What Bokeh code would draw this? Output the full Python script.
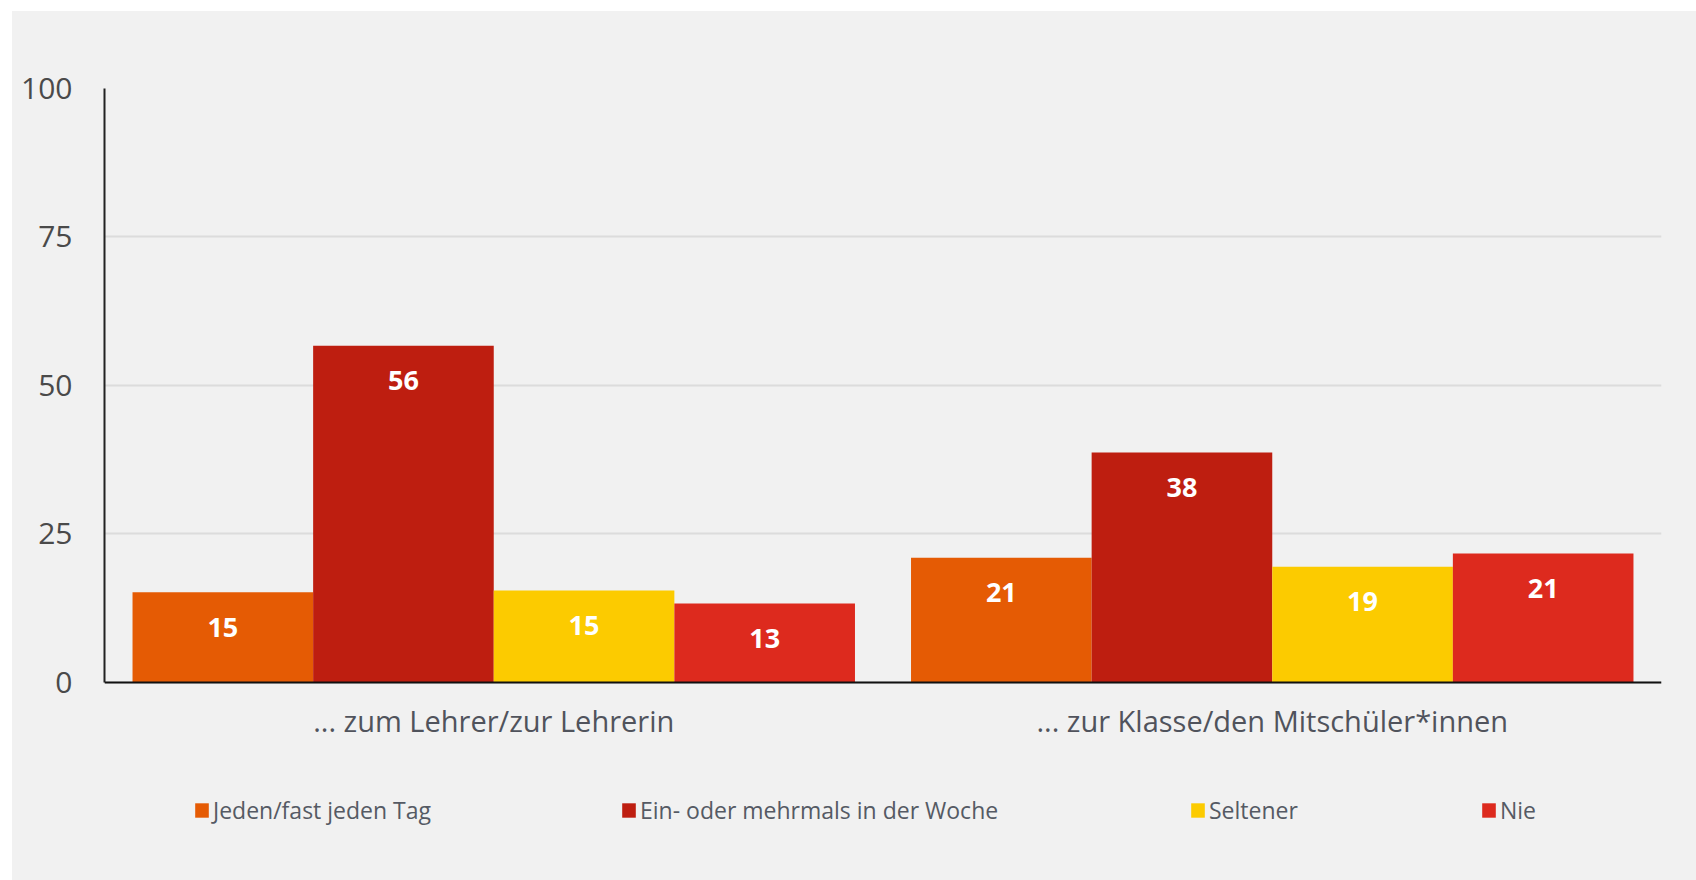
from bokeh.plotting import figure
from bokeh.models import ColumnDataSource, FactorRange, Legend, LegendItem, Range1d
from bokeh.transform import dodge
from bokeh.core.properties import value
from bokeh.embed import file_html
from bokeh.resources import INLINE

# ---------------- data ----------------
categories = ["... zum Lehrer/zur Lehrerin", "... zur Klasse/den Mitschüler*innen"]
series = ["Jeden/fast jeden Tag", "Ein- oder mehrmals in der Woche", "Seltener", "Nie"]
jeden_tag = [15.2, 21.0]
woechentlich = [56.7, 38.7]
seltener = [15.5, 19.5]
nie = [13.3, 21.7]
labels_jeden_tag = ["15", "21"]
labels_woechentlich = ["56", "38"]
labels_seltener = ["15", "19"]
labels_nie = ["13", "21"]
y_ticks = [0, 25, 50, 75, 100]

values_by_series = [jeden_tag, woechentlich, seltener, nie]
labels_by_series = [labels_jeden_tag, labels_woechentlich, labels_seltener, labels_nie]
colors = ["#E55B04", "#BE1E10", "#FCCB00", "#DD2A1E"]

FONT = "Open Sans"
BG = "#f1f1f1"

p = figure(
    x_range=FactorRange(factors=categories, range_padding=0),
    y_range=Range1d(-31.65, 100),
    width=1684, height=869,
    min_border_left=92, min_border_right=35, min_border_top=77, min_border_bottom=10,
    output_backend="svg", toolbar_location=None,
    background_fill_color=None, border_fill_color=None,
)
p.styles = {"background-color": BG}
p.margin = (11, 0, 0, 12)
p.outline_line_color = None

bar_w = 0.232
offsets = [-1.5 * bar_w, -0.5 * bar_w, 0.5 * bar_w, 1.5 * bar_w]

renderers = []
for vals, labs, col, off in zip(values_by_series, labels_by_series, colors, offsets):
    src = ColumnDataSource(dict(cat=categories, val=vals, lab=labs))
    r = p.vbar(x=dodge("cat", off, range=p.x_range), top="val", width=bar_w,
               source=src, fill_color=col, line_color=None)
    renderers.append(r)
    p.text(x=dodge("cat", off, range=p.x_range), y="val", text="lab", source=src,
           y_offset=35, text_align="center", text_baseline="middle",
           text_color="white", text_font=value(FONT), text_font_style="bold",
           text_font_size="27px")

# axes
p.yaxis.ticker = y_ticks
p.yaxis.bounds = (0, 100)
p.yaxis.major_tick_line_color = None
p.yaxis.minor_tick_line_color = None
p.yaxis.major_tick_out = 0
p.yaxis.major_tick_in = 0
p.yaxis.major_label_standoff = 32
p.yaxis.axis_line_color = "#222222"
p.yaxis.axis_line_width = 2
p.yaxis.major_label_text_font = FONT
p.yaxis.major_label_text_font_size = "30px"
p.yaxis.major_label_text_color = "#4a4a4a"

p.xaxis.fixed_location = 0
p.xaxis.major_tick_line_color = None
p.xaxis.major_tick_out = 0
p.xaxis.major_tick_in = 0
p.xaxis.major_label_standoff = 19
p.xaxis.axis_line_color = "#111111"
p.xaxis.axis_line_width = 2
p.xaxis.major_label_text_font = FONT
p.xaxis.major_label_text_font_size = "29px"
p.xaxis.major_label_text_color = "#50535c"

p.xgrid.grid_line_color = None
p.ygrid.grid_line_color = "#dcdcdc"
p.ygrid.grid_line_width = 2

# legends: one per item, placed in the lower part of the frame
legend_x = [89, 516, 1085, 1376]
for name, r, lx in zip(series, renderers, legend_x):
    lg = Legend(items=[LegendItem(label=name, renderers=[r])],
                location=(lx, 44), orientation="horizontal",
                padding=0, margin=0, spacing=0,
                glyph_width=17, glyph_height=18, label_standoff=3,
                label_height=30,
                label_text_font=FONT, label_text_font_size="23px",
                label_text_color="#555a64",
                background_fill_alpha=0, border_line_alpha=0)
    p.add_layout(lg, "center")

open("out.html", "w").write(file_html(p, INLINE))
